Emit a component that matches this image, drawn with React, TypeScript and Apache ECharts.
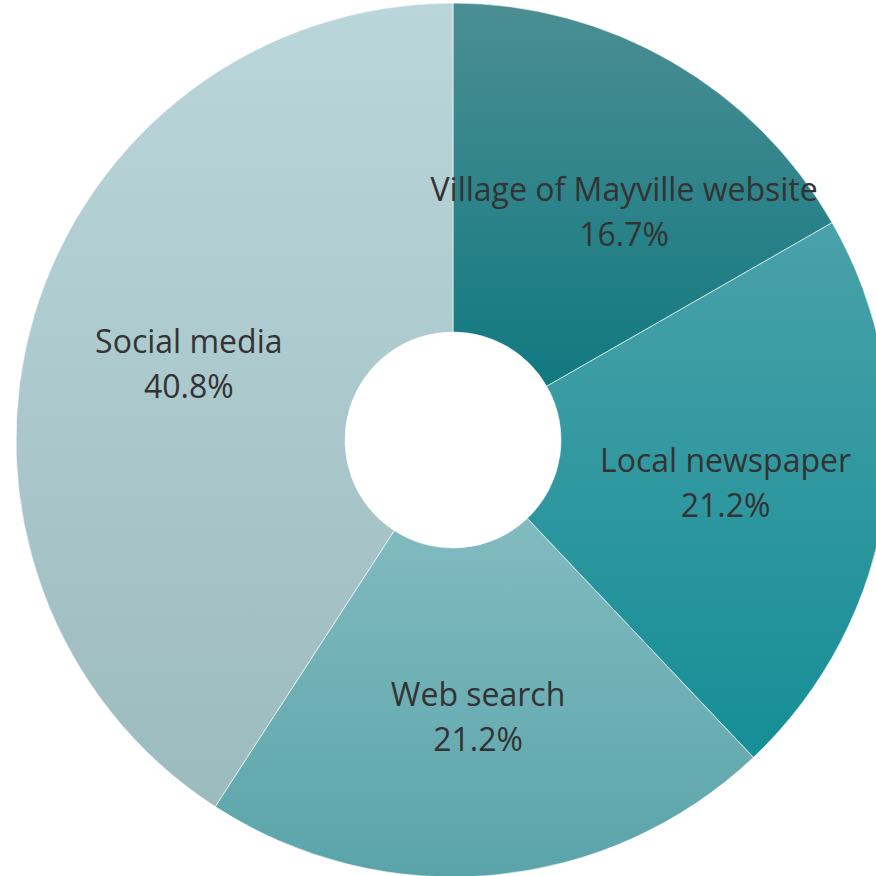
import React, { useEffect, useRef } from "react";
import * as echarts from "echarts";

const categories = ["Village of Mayville website", "Local newspaper", "Web search", "Social media"];
const values = [16.7, 21.2, 21.2, 40.8];
const topColors = ["#4b8e93", "#4aa1a9", "#81bbc0", "#bad6da"];
const bottomColors = ["#117980", "#158e96", "#5aa4a9", "#9cbbbf"];
const labelOffsets: [number, number][] = [[33, 9], [0, 2], [0, 2], [0, 1]];

export default function App() {
  const ref = useRef<HTMLDivElement>(null);
  useEffect(() => {
    if (!ref.current) return;
    const chart = echarts.init(ref.current, null, { renderer: "svg" });
    chart.setOption({
      animation: false,
      series: [
        {
          type: "pie",
          center: [453, 440],
          radius: [108, 437],
          startAngle: 90,
          clockwise: true,
          avoidLabelOverlap: false,
          label: {
            show: true,
            position: "inside",
            formatter: (p: any) => `${p.name}\n${p.value.toFixed(1)}%`,
            fontFamily: "Open Sans",
            fontSize: 32,
            fontWeight: "normal",
            lineHeight: 45,
            color: "#333333",
            align: "center",
          },
          labelLine: { show: false },
          itemStyle: { borderColor: "rgba(255,255,255,0.6)", borderWidth: 1 },
          emphasis: { disabled: true },
          data: categories.map((name, i) => ({
            name,
            value: values[i],
            label: { offset: labelOffsets[i] },
            itemStyle: {
              color: new echarts.graphic.LinearGradient(0, 0, 0, 1, [
                { offset: 0, color: topColors[i] },
                { offset: 1, color: bottomColors[i] },
              ]),
            },
          })),
        },
      ],
    });
    return () => chart.dispose();
  }, []);
  return (
    <div
      ref={ref}
      style={{ position: "fixed", left: 0, top: 0, width: 876, height: 876, background: "#fff" }}
    />
  );
}
